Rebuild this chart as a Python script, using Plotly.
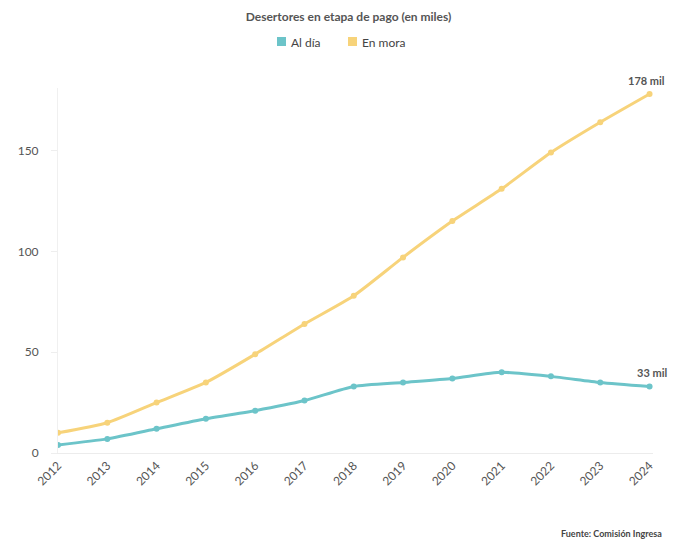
import plotly.graph_objects as go

years = [2012, 2013, 2014, 2015, 2016, 2017, 2018, 2019, 2020, 2021, 2022, 2023, 2024]
al_dia = [4, 7, 12, 17, 21, 26, 33, 35, 37, 40, 38, 35, 33]
en_mora = [10, 15, 25, 35, 49, 64, 78, 97, 115, 131, 149, 164, 178]
series_names = ["Al día", "En mora"]
colors = ["#6cc4c9", "#f7d37a"]
y_ticks = [0, 50, 100, 150]

W, H = 681, 541
ML, MR, MT, MB = 50, 36, 80, 96
PW, PH = W - ML - MR, H - MT - MB


def px(x):
    return (x - ML) / PW


def py(y):
    return (H - MB - y) / PH


fig = go.Figure()
for name, vals, col in [(series_names[0], al_dia, colors[0]), (series_names[1], en_mora, colors[1])]:
    fig.add_trace(go.Scatter(
        x=years, y=vals, mode="lines+markers", name=name,
        line=dict(color=col, width=3, shape="spline", smoothing=0.6),
        marker=dict(color=col, size=6), showlegend=False, hoverinfo="x+y"))

# custom legend (squares + labels)
legend_pos = [(269, 281), (340, 352)]
for (sx, tx), name, col in zip(legend_pos, series_names, colors):
    fig.add_shape(type="rect", xref="paper", yref="paper",
                  x0=px(sx), x1=px(sx + 9), y0=py(38), y1=py(29),
                  fillcolor=col, line=dict(width=0))
    fig.add_annotation(xref="paper", yref="paper", x=px(tx), y=py(34), text=name,
                       showarrow=False, xanchor="left", yanchor="middle",
                       font=dict(size=12, color="#444444"))

fig.add_annotation(x=years[-1], y=en_mora[-1], text=f"<b>{en_mora[-1]} mil</b>",
                   showarrow=False, xanchor="right", yanchor="bottom", yshift=5, xshift=17,
                   font=dict(size=11, color="#555555"))
fig.add_annotation(x=years[-1], y=al_dia[-1], text=f"<b>{al_dia[-1]} mil</b>",
                   showarrow=False, xanchor="right", yanchor="bottom", yshift=5, xshift=19,
                   font=dict(size=11, color="#555555"))
fig.add_annotation(xref="paper", yref="paper", x=px(656), y=py(525), text="<b>Fuente: Comisión Ingresa</b>",
                   showarrow=False, xanchor="right", yanchor="middle",
                   font=dict(size=9, color="#444444", family="Lato"))

fig.update_layout(
    width=W, height=H,
    paper_bgcolor="white", plot_bgcolor="white",
    font=dict(family="Lato, sans-serif", color="#555555", size=12),
    title=dict(text="<b>Desertores en etapa de pago (en miles)</b>", x=0.5, xanchor="center",
               y=1 - 9 / H, yanchor="middle", font=dict(size=12, color="#555555")),
    showlegend=False,
    margin=dict(l=ML, r=MR, t=MT, b=MB, autoexpand=False),
    xaxis=dict(tickmode="array", tickvals=years, ticktext=[str(y) for y in years],
               tickangle=-45, showgrid=False, showline=True, linecolor="#ececec", linewidth=1,
               range=[2012, 2024.07], zeroline=False, ticks="", automargin=False,
               tickfont=dict(size=12, color="#555555")),
    yaxis=dict(tickvals=y_ticks, range=[0, 181], showgrid=False, showline=True, linecolor="#f0f0f0",
               linewidth=1, zeroline=False, ticks="outside", ticklen=6, tickcolor="#eeeeee",
               ticklabelstandoff=10, automargin=False, tickfont=dict(size=12, color="#555555")),
)

fig.write_html("out.html")
